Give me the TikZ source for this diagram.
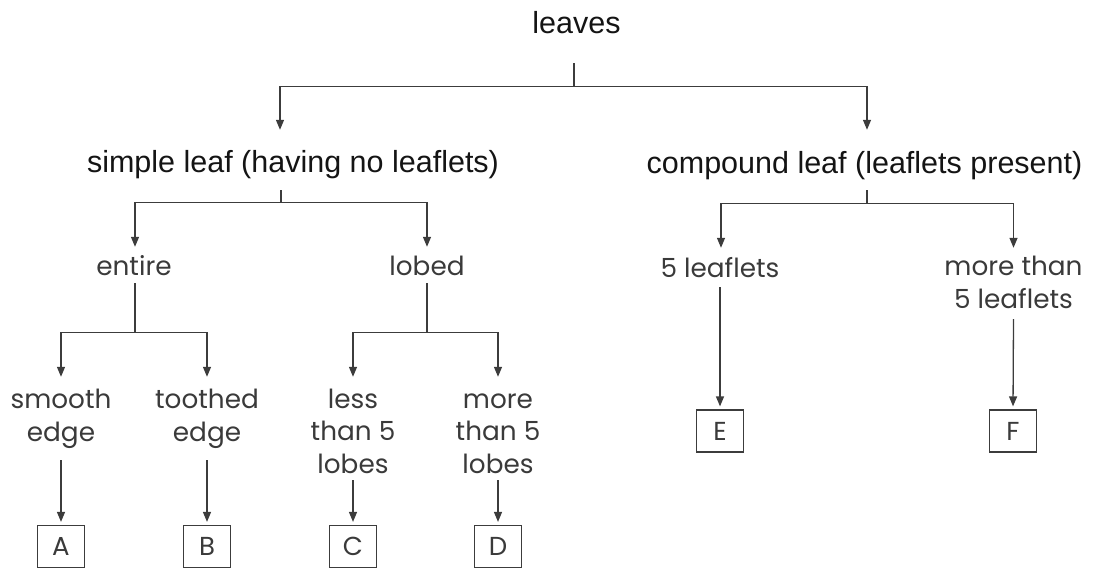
\documentclass[tikz,border=0pt]{standalone}
\usepackage{fontspec}
\setmainfont{Liberation Sans}
\newfontfamily\lowfont{Poppins}
\usetikzlibrary{arrows.meta}
\definecolor{topink}{HTML}{141414}
\definecolor{lowink}{HTML}{3A3A3A}
\definecolor{lineink}{HTML}{3C3C3C}
\tikzset{
  toptext/.style={font=\fontsize{30.5}{36}\selectfont, text=topink, inner xsep=0pt, inner ysep=0pt, anchor=base},
  lowtext/.style={font=\lowfont\fontsize{26.3}{32.5}\selectfont, text=lowink, inner xsep=0pt, inner ysep=0pt, anchor=base, align=center},
  letterbox/.style={draw=lineink, line width=1.2pt, font=\lowfont\fontsize{26}{30}\selectfont, text=lowink, minimum width=47pt, minimum height=42pt, inner sep=0pt},
  ln/.style={draw=lineink, line width=1.3pt},
  ar/.style={ln, -{Triangle[width=8pt,length=10pt]}},
}
\begin{document}
\begin{tikzpicture}[x=1pt,y=-1pt]
\useasboundingbox (0,0) rectangle (1094,570);
% level 0
\node[toptext, text height=20pt, text depth=30pt] (leaves) at (576.5,33) {leaves};
% level 1
\node[toptext, text height=42pt, text depth=18pt] (simple) at (293,172) {simple leaf (having no leaflets)};
\node[toptext, text height=43pt, text depth=17pt] (compound) at (864.5,173) {compound leaf (leaflets present)};
% level 2 (base anchor of a multi-line node = last line)
\node[lowtext, text height=28pt, text depth=8pt] (entire) at (134,275) {entire};
\node[lowtext, text height=28pt, text depth=8pt] (lobed) at (427,275) {lobed};
\node[lowtext, text height=29pt, text depth=10pt] (five) at (720,277) {5 leaflets};
\node[lowtext, text height=60pt, text depth=11pt] (morefive) at (1013.5,308) {more than\\5 leaflets};
% level 3
\node[lowtext, text height=64pt, text depth=19pt] (smooth) at (61,441) {smooth\\edge};
\node[lowtext, text height=64pt, text depth=19pt] (toothed) at (207,441) {toothed\\edge};
\node[lowtext, text height=96pt, text depth=7pt] (less) at (353,473) {less\\than 5\\lobes};
\node[lowtext, text height=96pt, text depth=7pt] (morelobes) at (498,473) {more\\than 5\\lobes};
% boxes
\node[letterbox] (A) at (61,546.5) {A};
\node[letterbox] (B) at (207,546.5) {B};
\node[letterbox] (C) at (353,546.5) {C};
\node[letterbox] (D) at (498,546.5) {D};
\node[letterbox] (E) at (720,431) {E};
\node[letterbox] (F) at (1013,431) {F};
% connectors
\draw[ln] ([xshift=-2.5pt]leaves.south) -- ++(0,23) coordinate (j0);
\draw[ar] (j0) -| ([xshift=-13pt]simple.north);
\draw[ar] (j0) -| ([xshift=2.5pt]compound.north);
\draw[ln] ([xshift=-12pt]simple.south) -- ++(0,12) coordinate (j1);
\draw[ar] (j1) -| ([xshift=1pt]entire.north);
\draw[ar] (j1) -| (lobed.north);
\draw[ln] ([xshift=2.5pt]compound.south) -- ++(0,13) coordinate (j2);
\draw[ar] (j2) -| ([xshift=1pt]five.north);
\draw[ar] (j2) -| (morefive.north);
\draw[ln] ([xshift=1pt]entire.south) -- ++(0,49) coordinate (j3);
\draw[ar] (j3) -| (smooth.north);
\draw[ar] (j3) -| (toothed.north);
\draw[ln] (lobed.south) -- ++(0,49) coordinate (j4);
\draw[ar] (j4) -| (less.north);
\draw[ar] (j4) -| (morelobes.north);
\draw[ar, shorten >=3pt] (smooth.south) -- (A.north);
\draw[ar, shorten >=3pt] (toothed.south) -- (B.north);
\draw[ar, shorten >=3pt] (less.south) -- (C.north);
\draw[ar, shorten >=3pt] (morelobes.south) -- (D.north);
\draw[ar, shorten >=3pt] (five.south) -- (E.north);
\draw[ar, shorten >=3pt] (morefive.south) -- (F.north);
\end{tikzpicture}
\end{document}
